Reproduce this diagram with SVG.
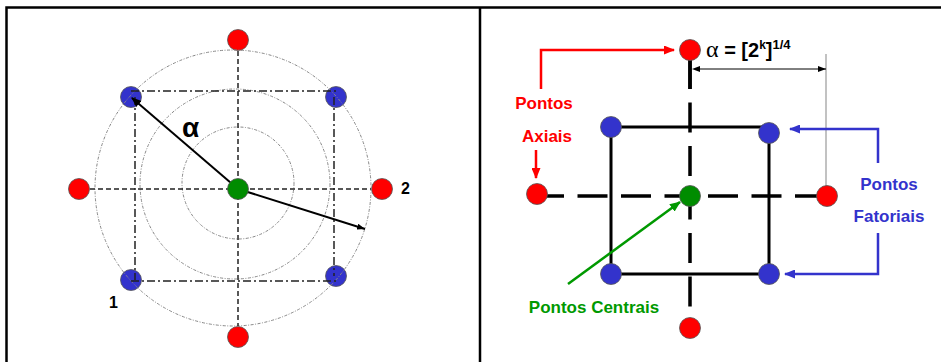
<svg xmlns="http://www.w3.org/2000/svg" width="941" height="362" viewBox="0 0 941 362">
<style>
.frame{stroke:#000;stroke-width:2.5;fill:none}
.ring{fill:none;stroke:#888;stroke-width:1;stroke-dasharray:3 1.5 1 1.5}
.dash{stroke:#222;stroke-width:1.5;stroke-dasharray:5 3;fill:none}
.dashdot{stroke:#222;stroke-width:1.5;stroke-dasharray:8 3 2 3;fill:none}
.red{fill:#FF0000;stroke:#555;stroke-width:0.8}
.blue{fill:#3333CC;stroke:#555;stroke-width:0.8}
.green{fill:#008C00;stroke:#555;stroke-width:0.8}
.axis{stroke:#000;stroke-width:3.5;stroke-dasharray:30 13.5;fill:none}
.sq{stroke:#000;stroke-width:3;fill:none}
.lbl{font-family:"Liberation Sans",Arial,sans-serif;font-weight:bold;font-size:17px}
</style>
<defs>
<marker id="ak" markerUnits="userSpaceOnUse" markerWidth="10" markerHeight="8" refX="9" refY="4" orient="auto"><path d="M0,0 L10,4 L0,8 z" fill="#000"/></marker>
<marker id="aks" markerUnits="userSpaceOnUse" markerWidth="8" markerHeight="6" refX="8" refY="3" orient="auto"><path d="M0,0 L8,3 L0,6 z" fill="#000"/></marker>
<marker id="ar" markerUnits="userSpaceOnUse" markerWidth="11" markerHeight="9" refX="10" refY="4.5" orient="auto"><path d="M0,0 L11,4.5 L0,9 z" fill="#FF0000"/></marker>
<marker id="ab" markerUnits="userSpaceOnUse" markerWidth="11" markerHeight="9" refX="10" refY="4.5" orient="auto"><path d="M0,0 L11,4.5 L0,9 z" fill="#3333CC"/></marker>
<marker id="ag" markerUnits="userSpaceOnUse" markerWidth="11" markerHeight="9" refX="10" refY="4.5" orient="auto"><path d="M0,0 L11,4.5 L0,9 z" fill="#009900"/></marker>
</defs>
<rect width="941" height="362" fill="#fff"/>
<g id="frame">
<path class="frame" d="M6.5,362 V7.5 H941 M480,7.5 V362"/>
</g>

<!-- Left panel -->
<g id="left-points">
<circle class="red" cx="238" cy="40" r="10.5"/>
<circle class="red" cx="238" cy="337" r="10.5"/>
<circle class="red" cx="79" cy="189" r="10.5"/>
<circle class="red" cx="382" cy="189" r="10.5"/>
<circle class="blue" cx="131" cy="97" r="10.5"/>
<circle class="blue" cx="336" cy="97" r="10.5"/>
<circle class="blue" cx="131" cy="280" r="10.5"/>
<circle class="blue" cx="336" cy="276" r="10.5"/>
</g>
<g id="left-guides">
<circle class="ring" cx="233" cy="188" r="138"/>
<circle class="ring" cx="235" cy="184" r="95"/>
<circle class="ring" cx="238" cy="183" r="56"/>
<path class="dash" d="M238,51 V326 M90,189 H371"/>
<path class="dashdot" d="M131,91 H336 M131,281 H336 M135,97 V280 M334,97 V276"/>
</g>
<g id="connectors-left">
<line x1="238" y1="189" x2="132" y2="98" stroke="#000" stroke-width="2" marker-end="url(#ak)"/>
<line x1="238" y1="189" x2="365" y2="229" stroke="#000" stroke-width="2" marker-end="url(#aks)"/>
</g>
<g id="left-center">
<circle class="green" cx="238" cy="189" r="10.5"/>
</g>
<g id="left-labels">
<text x="182" y="137" font-family="Liberation Sans, Arial, sans-serif" font-weight="bold" font-size="28">α</text>
<text x="401" y="194" font-family="Liberation Sans, Arial, sans-serif" font-weight="bold" font-size="16">2</text>
<text x="109" y="308" font-family="Liberation Sans, Arial, sans-serif" font-weight="bold" font-size="16">1</text>
</g>

<!-- Right panel -->
<g id="right-structure">
<path class="sq" d="M611,127 H769 M611,274 H769 M611,127 V274 M769,133 V274"/>
<path class="axis" d="M534,196 H827"/>
<path class="axis" d="M690,59 V308"/>
<line x1="690" y1="60" x2="690" y2="89" stroke="#000" stroke-width="3.5"/>
<line x1="826" y1="54" x2="826" y2="196" stroke="#999" stroke-width="1.2"/>
</g>
<g id="connectors-right">
<line x1="700" y1="69" x2="826" y2="69" stroke="#000" stroke-width="1" marker-end="url(#aks)"/>
<path d="M541,89 V50 H674" fill="none" stroke="#FF0000" stroke-width="2.5" marker-end="url(#ar)"/>
<path d="M536,150 V178" fill="none" stroke="#FF0000" stroke-width="2.5" marker-end="url(#ar)"/>
<path d="M878,163 V129 H790" fill="none" stroke="#3333CC" stroke-width="2.5" marker-end="url(#ab)"/>
<path d="M878,233 V274 H785" fill="none" stroke="#3333CC" stroke-width="2.5" marker-end="url(#ab)"/>
<line x1="568" y1="284" x2="680" y2="202" stroke="#009900" stroke-width="2.5" marker-end="url(#ag)"/>
</g>
<g id="dim-start">
<path d="M700,66 L692,69 L700,72 z" fill="#000"/>
</g>
<g id="axial-points">
<circle class="red" cx="690" cy="50" r="10.5"/>
<circle class="red" cx="537" cy="194" r="10.5"/>
<circle class="red" cx="827" cy="196" r="10.5"/>
<circle class="red" cx="690" cy="328" r="10.5"/>
</g>
<g id="factorial-points">
<circle class="blue" cx="611" cy="127" r="10.5"/>
<circle class="blue" cx="769" cy="133" r="10.5"/>
<circle class="blue" cx="611" cy="274" r="10.5"/>
<circle class="blue" cx="769" cy="274" r="10.5"/>
</g>
<g id="central-point">
<circle class="green" cx="690" cy="196" r="10.5"/>
</g>
<g id="right-labels">
<text x="706" y="57" font-family="Liberation Sans, Arial, sans-serif" font-weight="bold" font-size="20"><tspan font-family="Liberation Serif, Times New Roman, serif" font-weight="normal" font-size="24">α</tspan> = [2<tspan dy="-8" font-size="12">k</tspan><tspan dy="8">]</tspan><tspan dy="-8" font-size="13">1/4</tspan></text>
<text class="lbl" x="544" y="109" text-anchor="middle" fill="#FF0000">Pontos</text>
<text class="lbl" x="547" y="142" text-anchor="middle" fill="#FF0000">Axiais</text>
<text class="lbl" x="889" y="190" text-anchor="middle" fill="#3333CC">Pontos</text>
<text class="lbl" x="889" y="222" text-anchor="middle" fill="#3333CC">Fatoriais</text>
<text class="lbl" x="594" y="313" text-anchor="middle" fill="#009900">Pontos Centrais</text>
</g>
</svg>
